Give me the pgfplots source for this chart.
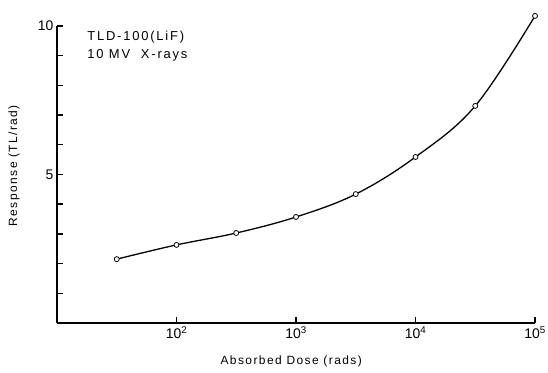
\documentclass[border=0pt]{standalone}
\usepackage{fontspec}
\setmainfont{Liberation Sans}
\usepackage{pgfplots}
\pgfplotsset{compat=1.18}
\begin{document}
\begin{tikzpicture}
\path[use as bounding box] (-57bp,-50bp) rectangle (491bp,323bp);
\begin{axis}[
  at={(0,0)}, anchor=south west,
  scale only axis, width=478bp, height=297bp,
  xmode=log, xmin=10, xmax=1e5, ymin=0, ymax=10,
  axis x line=bottom, axis y line=left,
  axis line style={-, line width=1.1bp, black},
  tick align=inside, major tick length=6bp,
  xtick style={line width=1.4bp, black},
  ytick style={line width=1.4bp, black},
  xtick={100,1000,10000,100000},
  xticklabels={10\textsuperscript{2},10\textsuperscript{3},10\textsuperscript{4},10\textsuperscript{5}},
  xminorticks=false,
  ytick={1,2,3,4,5,6,7,8,9,10},
  yticklabels={,,,,5,,,,,10},
  tick label style={font=\fontsize{14}{14}\selectfont},
  clip=false,
  xlabel={\addfontfeature{LetterSpace=12}Absorbed Dose (rads)},
  ylabel={\addfontfeature{LetterSpace=12}Response (TL/rad)},
  xlabel style={font=\fontsize{12}{12}\selectfont, at={(axis description cs:0.49,-0.128)}, anchor=center},
  ylabel style={font=\fontsize{12}{12}\selectfont, at={(axis description cs:-0.09,0.53)}, anchor=center},
]
\addplot[black, line width=1.3bp, smooth, tension=0.6, mark=*, mark options={fill=white, draw=black, line width=0.8bp}, mark size=2.5bp] coordinates {
 (31.62,2.15) (100,2.63) (316.2,3.03) (1000,3.57) (3162,4.34) (10000,5.59) (31623,7.31) (100000,10.34)
};
\node[anchor=north west, align=left, font=\fontsize{13}{18}\selectfont] at (axis description cs:0.056,0.993)
 {\addfontfeature{LetterSpace=14}TLD-100(LiF)\\\addfontfeature{LetterSpace=14}10 MV\ \ X-rays};
\end{axis}
\end{tikzpicture}
\end{document}
